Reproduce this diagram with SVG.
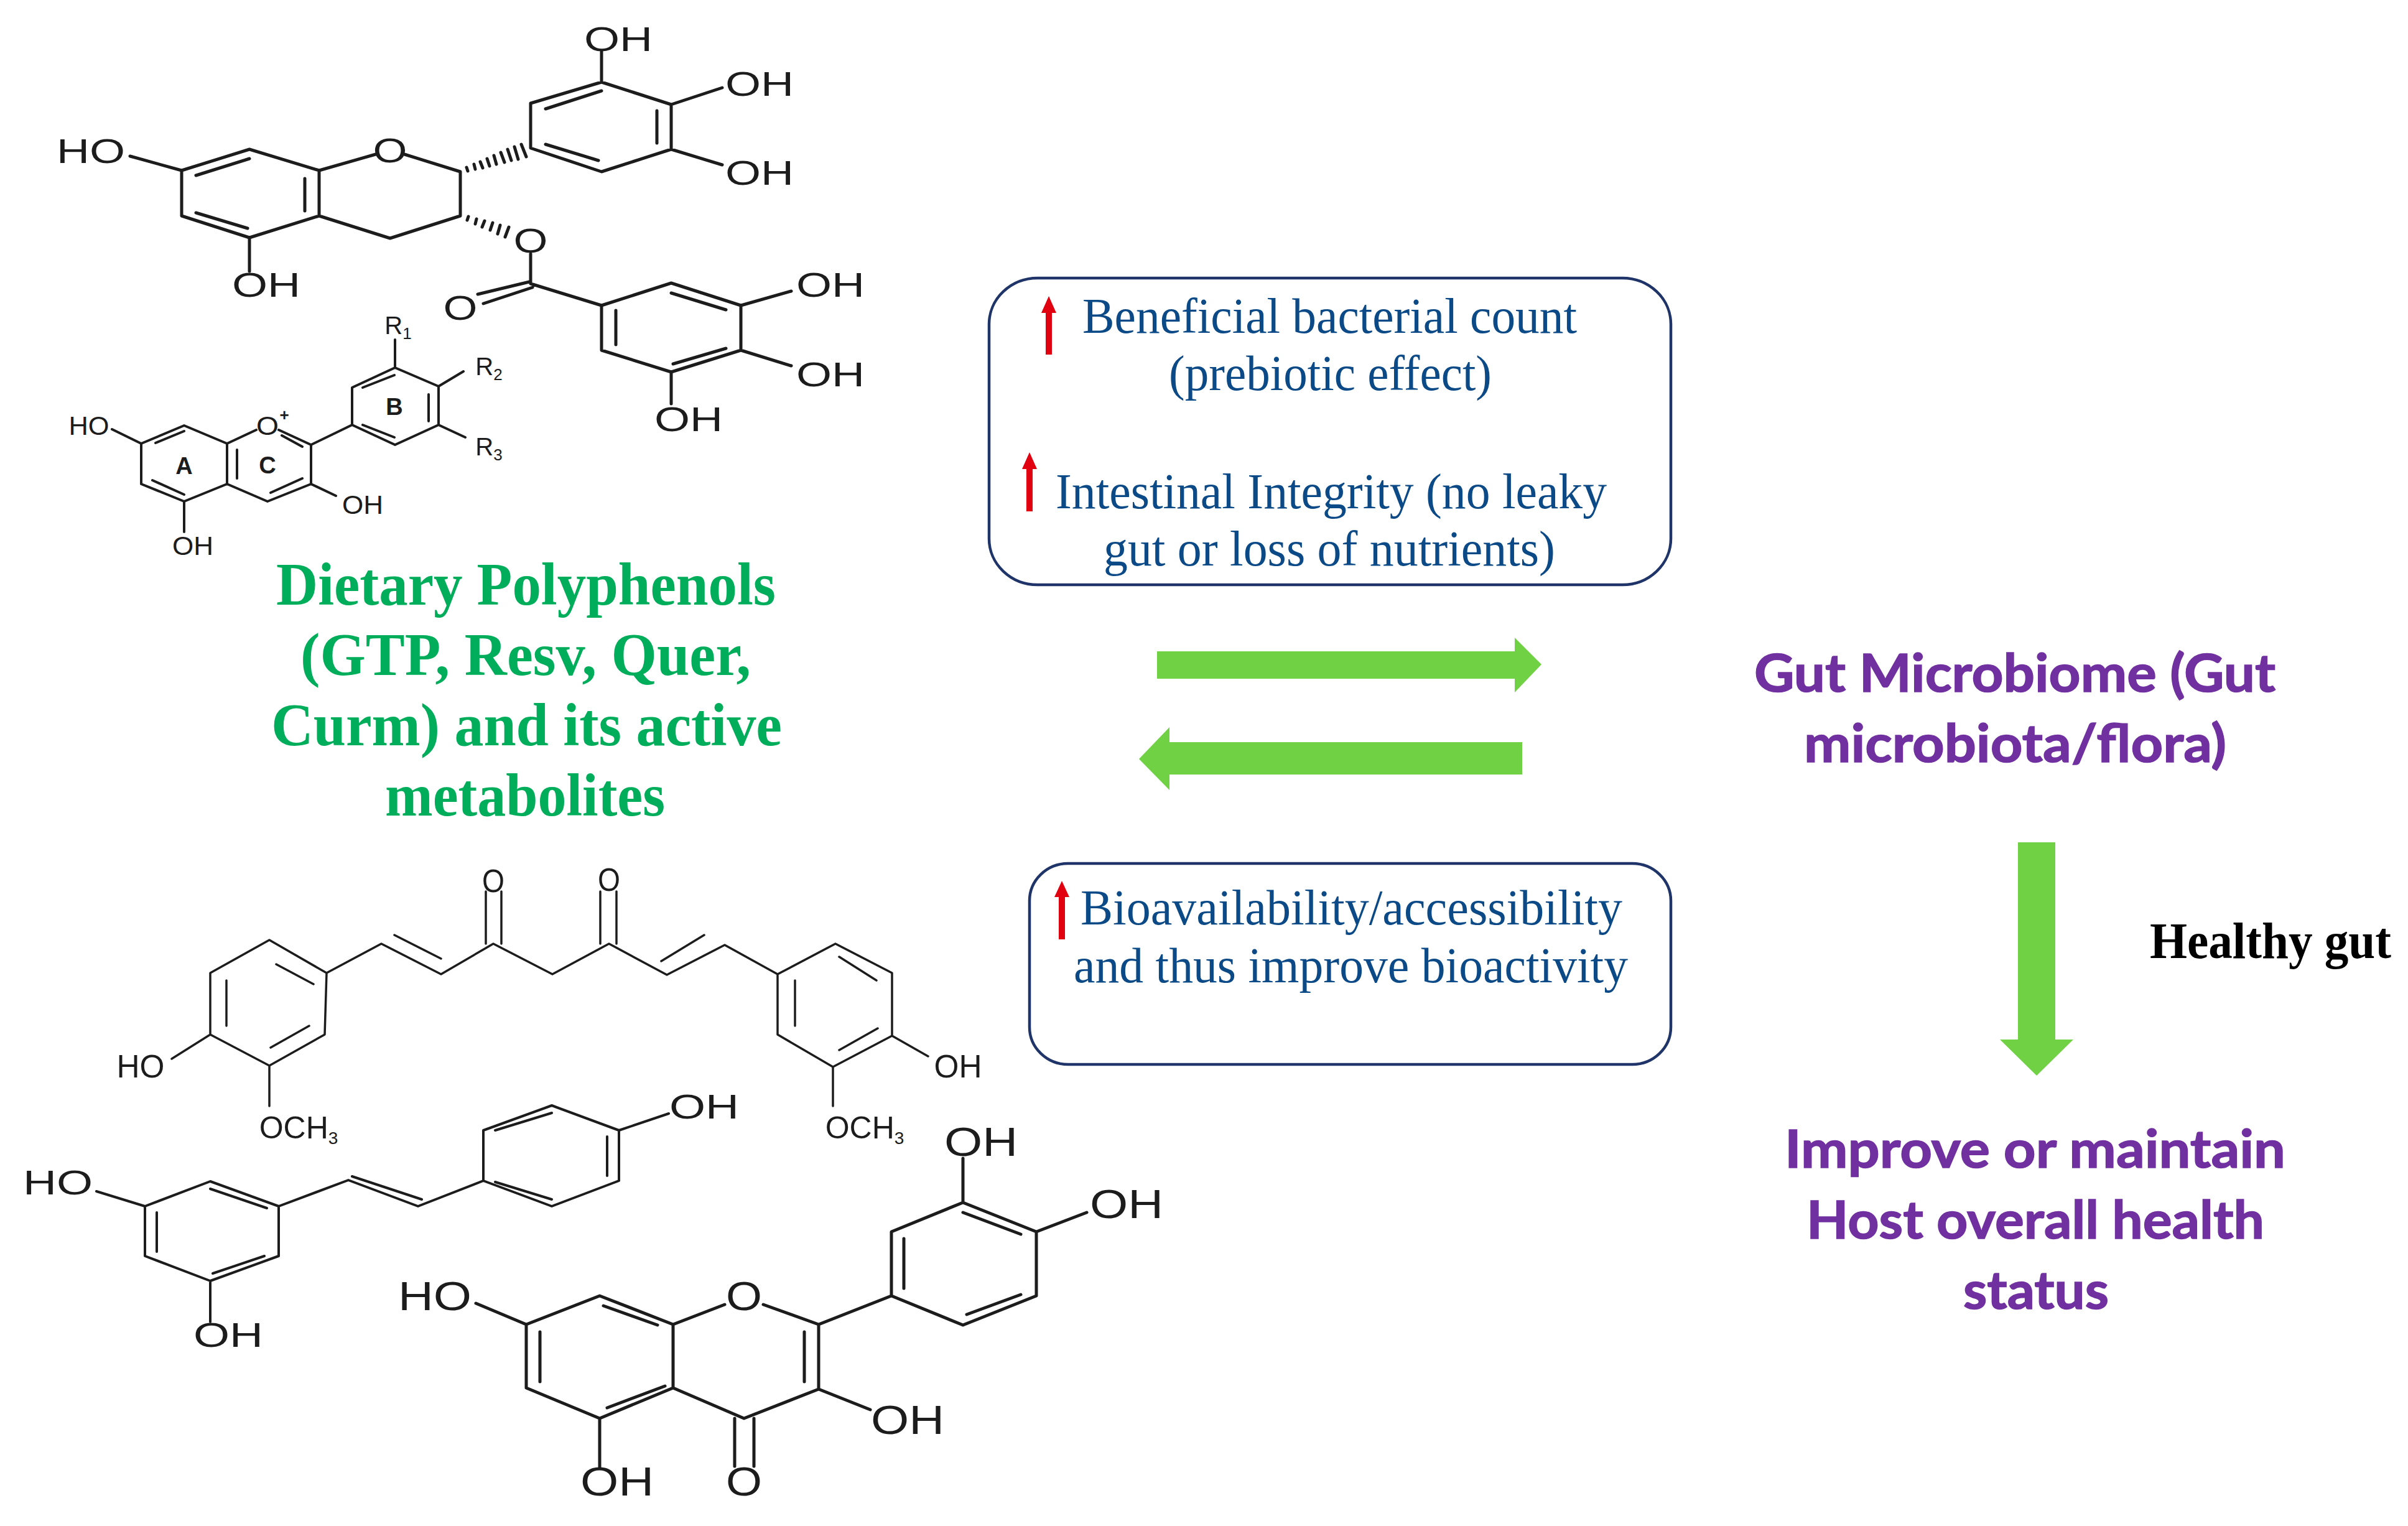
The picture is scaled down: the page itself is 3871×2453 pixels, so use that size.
<svg xmlns="http://www.w3.org/2000/svg" width="3871" height="2453" viewBox="0 0 3871 2453">
<style>
.b{fill:none;stroke:#1c1c1c;stroke-linecap:round;stroke-linejoin:round}
.b5{stroke-width:5}.b4{stroke-width:4}.b3{stroke-width:3.5}
.c{font-family:"Liberation Sans",Arial,sans-serif;fill:#1c1c1c;text-anchor:middle}
.box{fill:#fff;stroke:#1f3468;stroke-width:4.5}
.t{font-family:"Liberation Serif","Times New Roman",serif;font-size:80px;fill:#0b4a86}
.g{font-family:"Liberation Serif","Times New Roman",serif;font-size:98px;font-weight:bold;fill:#00ad5a}
.p{font-family:Lato,"Open Sans",sans-serif;font-size:84px;font-weight:bold;fill:#7030a0;stroke:#7030a0;stroke-width:1.5}
.h{font-family:"Liberation Serif","Times New Roman",serif;font-size:82px;font-weight:bold;fill:#000}
.ga{fill:#6fd143}
.ra{fill:#e0000f}
</style>
<rect width="3871" height="2453" fill="#fff"/>

<g id="egcg">
<path class="b b5" d="M292 274L401 240L513 274L513 347L401 382L292 347ZM513 274L604 248M650 248L740 276L740 347L627 383L513 347M853 238L853 166L967 132L1079 168L1079 240L967 276ZM315 282L401 255M490 287V339M315 342L398 367M877 175L967 146M1056 178V230M877 232L962 258M967 132V83M1079 168L1161 141M1079 240L1161 265M292 274L209 251M401 382V436M853 408V456M851 453L768 473M856 462L777 488M853 456L967 491M967 491L1079 455L1191 491L1191 563L1079 598L967 563ZM1079 471L1167 498M990 499V554M1082 585L1167 560M1191 491L1272 468M1191 563L1272 588M1079 598V649M750 269L752 275M762 264L764 272M772 260L776 270M783 255L787 267M794 250L798 264M805 245L811 261M816 240L822 258M827 236L833 256M838 232L846 252M751 354L753 348M764 360L766 352M775 365L779 355M788 370L792 358M800 376L804 362M812 381L818 365"/>
<g font-size="56">
<text class="c" x="994" y="82" textLength="110" lengthAdjust="spacingAndGlyphs">OH</text>
<text class="c" x="1221" y="154" textLength="110" lengthAdjust="spacingAndGlyphs">OH</text>
<text class="c" x="1221" y="297" textLength="110" lengthAdjust="spacingAndGlyphs">OH</text>
<text class="c" x="146" y="262" textLength="110" lengthAdjust="spacingAndGlyphs">HO</text>
<text class="c" x="428" y="477" textLength="110" lengthAdjust="spacingAndGlyphs">OH</text>
<text class="c" x="627" y="261" textLength="55" lengthAdjust="spacingAndGlyphs">O</text>
<text class="c" x="853" y="406" textLength="55" lengthAdjust="spacingAndGlyphs">O</text>
<text class="c" x="740" y="514" textLength="55" lengthAdjust="spacingAndGlyphs">O</text>
<text class="c" x="1335" y="477" textLength="110" lengthAdjust="spacingAndGlyphs">OH</text>
<text class="c" x="1335" y="621" textLength="110" lengthAdjust="spacingAndGlyphs">OH</text>
<text class="c" x="1107" y="693" textLength="110" lengthAdjust="spacingAndGlyphs">OH</text>
</g>
</g>

<g id="anthocyanidin">
<path class="b b4" d="M227 713L296 684L365 713L365 778L296 806L227 778ZM365 713L412 691M448 691L500 715L500 778L430 806L365 778M250 712L296 693M381 723V769M245 772L296 795M453 700L486 718M486 769L435 792M500 715L566 683L566 623L635 591L705 621L705 683L635 715L566 683M583 623L634 603M689 634V677M583 683L634 703M227 713L180 690M500 778L540 797M296 806V855M635 591V546M705 621L745 597M705 683L748 703"/>
<g font-size="42">
<text class="c" x="143" y="699" textLength="65" lengthAdjust="spacingAndGlyphs">HO</text>
<text class="c" x="430" y="699" textLength="36" lengthAdjust="spacingAndGlyphs">O</text>
<text class="c" x="457" y="676" font-size="26" font-weight="bold">+</text>
<text class="c" x="583" y="826" textLength="66" lengthAdjust="spacingAndGlyphs">OH</text>
<text class="c" x="310" y="892" textLength="66" lengthAdjust="spacingAndGlyphs">OH</text>
<text class="c" x="296" y="762" font-size="38" font-weight="bold">A</text>
<text class="c" x="430" y="761" font-size="38" font-weight="bold">C</text>
<text class="c" x="634" y="667" font-size="38" font-weight="bold">B</text>
<text class="c" x="640" y="537" font-size="40">R<tspan font-size="26" dy="8">1</tspan></text>
<text class="c" x="786" y="603" font-size="40">R<tspan font-size="26" dy="8">2</tspan></text>
<text class="c" x="786" y="732" font-size="40">R<tspan font-size="26" dy="8">3</tspan></text>
</g>
</g>

<g id="title">
<text class="g" x="444" y="972" textLength="803" lengthAdjust="spacingAndGlyphs">Dietary  Polyphenols</text>
<text class="g" x="483" y="1085" textLength="724" lengthAdjust="spacingAndGlyphs">(GTP, Resv, Quer,</text>
<text class="g" x="436" y="1198" textLength="821" lengthAdjust="spacingAndGlyphs">Curm) and its active</text>
<text class="g" x="619" y="1311" textLength="450" lengthAdjust="spacingAndGlyphs">metabolites</text>
</g>

<g id="curcumin">
<path class="b b3" d="M338 1564L433 1511L525 1564L522 1663L433 1713L338 1663ZM364 1576V1649M444 1550L504 1582M435 1684L497 1649M525 1564L613 1517L709 1566L793 1517L888 1566L979 1517L1072 1567L1165 1519L1250 1566M634 1503L709 1541M1063 1545L1132 1503M781 1433V1517M806 1433V1517M965 1433V1517M991 1433V1517M1250 1566L1343 1517L1434 1564L1434 1665L1339 1715L1250 1663ZM1349 1538L1409 1576M1411 1653L1349 1688M1278 1576V1649M338 1663L276 1702M433 1713V1778M1434 1665L1492 1698M1339 1715V1778"/>
<g font-size="52">
<text class="c" x="793" y="1434" textLength="36" lengthAdjust="spacingAndGlyphs">O</text>
<text class="c" x="979" y="1432" textLength="36" lengthAdjust="spacingAndGlyphs">O</text>
<text class="c" x="226" y="1732" textLength="77" lengthAdjust="spacingAndGlyphs">HO</text>
<text class="c" x="1540" y="1732" textLength="77" lengthAdjust="spacingAndGlyphs">OH</text>
<text class="c" x="0" y="0" transform="translate(480 1830) scale(1 1)" font-size="50">OCH<tspan font-size="28" dy="9">3</tspan></text>
<text class="c" x="0" y="0" transform="translate(1390 1830) scale(1 1)" font-size="50">OCH<tspan font-size="28" dy="9">3</tspan></text>
</g>
</g>

<g id="resveratrol">
<path class="b b4" d="M233 1939L338 1899L448 1939L448 2019L338 2059L233 2019ZM338 1911L429 1942M425 2019L342 2047M252 1949V2012M448 1939L560 1897L672 1939L777 1898M566 1891L678 1928M777 1898L777 1817L887 1777L995 1817L995 1898L887 1939ZM796 1817L887 1789M976 1827V1890M796 1900L887 1928M995 1817L1075 1790M233 1939L155 1915M338 2059V2125"/>
<g font-size="56">
<text class="c" x="1132" y="1798" textLength="112" lengthAdjust="spacingAndGlyphs">OH</text>
<text class="c" x="93" y="1920" textLength="112" lengthAdjust="spacingAndGlyphs">HO</text>
<text class="c" x="367" y="2165" textLength="112" lengthAdjust="spacingAndGlyphs">OH</text>
</g>
</g>

<g id="quercetin">
<path class="b b5" d="M846 2129L964 2083L1082 2129L1082 2231L964 2280L846 2231ZM970 2099L1057 2130M868 2141V2221M976 2263L1069 2228M1082 2129L1165 2097M1227 2097L1316 2129L1316 2233L1196 2280L1082 2231M1293 2141V2221M1181 2280V2357M1212 2280V2357M1316 2129L1433 2083L1433 1980L1548 1933L1666 1980L1666 2083L1548 2130L1433 2083M1453 1991V2071M1548 1949L1641 1984M1641 2081L1554 2113M1548 1933V1862M1666 1980L1747 1949M846 2129L765 2095M1316 2233L1399 2266M964 2280V2360"/>
<g font-size="64">
<text class="c" x="1196" y="2106" textLength="58" lengthAdjust="spacingAndGlyphs">O</text>
<text class="c" x="1196" y="2404" textLength="58" lengthAdjust="spacingAndGlyphs">O</text>
<text class="c" x="699" y="2106" textLength="118" lengthAdjust="spacingAndGlyphs">HO</text>
<text class="c" x="1459" y="2305" textLength="118" lengthAdjust="spacingAndGlyphs">OH</text>
<text class="c" x="992" y="2404" textLength="118" lengthAdjust="spacingAndGlyphs">OH</text>
<text class="c" x="1577" y="1858" textLength="118" lengthAdjust="spacingAndGlyphs">OH</text>
<text class="c" x="1811" y="1958" textLength="118" lengthAdjust="spacingAndGlyphs">OH</text>
</g>
</g>

<g id="box-top">
<rect class="box" x="1590" y="447" width="1096" height="493" rx="78" ry="74"/>
<path class="ra" d="M1686 476L1698 503H1691V570H1681V503H1674Z"/>
<path class="ra" d="M1655 727L1667 754H1660V822H1650V754H1643Z"/>
<text class="t" x="1740" y="535" textLength="795" lengthAdjust="spacingAndGlyphs">Beneficial bacterial count</text>
<text class="t" x="1879" y="627" textLength="519" lengthAdjust="spacingAndGlyphs">(prebiotic effect)</text>
<text class="t" x="1697" y="817" textLength="886" lengthAdjust="spacingAndGlyphs">Intestinal Integrity (no leaky</text>
<text class="t" x="1774" y="909" textLength="726" lengthAdjust="spacingAndGlyphs">gut or loss of nutrients)</text>
</g>

<g id="box-bottom">
<rect class="box" x="1655" y="1388" width="1031" height="323" rx="62" ry="60"/>
<path class="ra" d="M1707 1416L1719 1442H1712V1510H1702V1442H1695Z"/>
<text class="t" x="1737" y="1486" textLength="871" lengthAdjust="spacingAndGlyphs">Bioavailability/accessibility</text>
<text class="t" x="1726" y="1579" textLength="891" lengthAdjust="spacingAndGlyphs">and thus improve bioactivity</text>
</g>

<g id="microbiome">
<text class="p" x="2820" y="1112" textLength="838" lengthAdjust="spacingAndGlyphs">Gut Microbiome (Gut</text>
<text class="p" x="2900" y="1225" textLength="679" lengthAdjust="spacingAndGlyphs">microbiota/flora)</text>
</g>

<g id="health">
<text class="p" x="2869" y="1877" textLength="805" lengthAdjust="spacingAndGlyphs">Improve or maintain</text>
<text class="p" x="2904" y="1991" textLength="736" lengthAdjust="spacingAndGlyphs">Host overall health</text>
<text class="p" x="3156" y="2104" textLength="234" lengthAdjust="spacingAndGlyphs">status</text>
</g>

<g id="healthy-gut">
<text class="h" x="3456" y="1540" textLength="388" lengthAdjust="spacingAndGlyphs">Healthy gut</text>
</g>

<g id="connectors">
<path class="ga" d="M1860 1047H2435V1025L2478 1068L2435 1113V1091H1860Z"/>
<path class="ga" d="M2447 1193H1880V1169L1831 1220L1880 1270V1245H2447Z"/>
<path class="ga" d="M3244 1354H3304V1671H3333L3274 1729L3215 1671H3244Z"/>
</g>
</svg>
